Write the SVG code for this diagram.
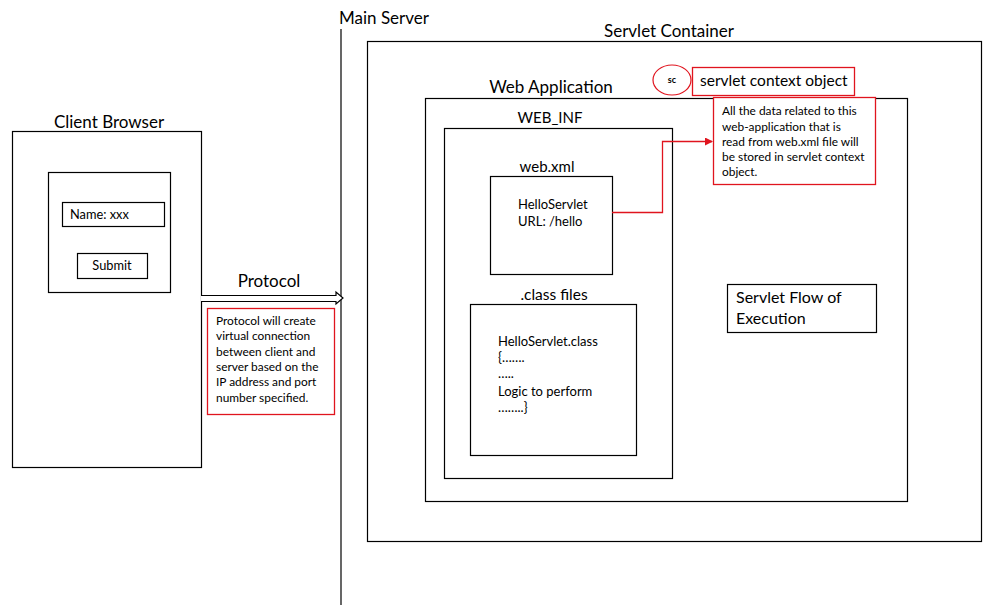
<svg xmlns="http://www.w3.org/2000/svg" width="1002" height="605" viewBox="0 0 1002 605">
<style>
.box{fill:#fff;stroke:#000;stroke-width:1.2}
.rbox{fill:#fff;stroke:#e0141e;stroke-width:1.3}
.t{font-family:Lato,"Liberation Sans",sans-serif;fill:#000}
.h{font-size:17px}
.s{font-size:11.9px}
.c{text-anchor:middle}
.conn{fill:none;stroke:#e0141e;stroke-width:1.3}
</style>
<defs>
<marker id="ah" markerWidth="8" markerHeight="8" refX="7" refY="4" orient="auto" markerUnits="userSpaceOnUse">
<path d="M0,0 L8,4 L0,8 Z" fill="#e0141e"/>
</marker>
</defs>
<rect width="1002" height="605" fill="#fff"/>

<g id="main-server">
<line x1="341" y1="29" x2="341" y2="605" stroke="#000" stroke-width="1.2"/>
<text class="t h" x="339" y="24">Main Server</text>
</g>

<g id="servlet-container">
<rect class="box" x="367.5" y="41.5" width="614" height="500"/>
<text class="t h c" x="669" y="37">Servlet Container</text>
</g>

<g id="web-application">
<rect class="box" x="425.5" y="98.5" width="482" height="403"/>
<text class="t h c" x="551" y="93">Web Application</text>
</g>

<g id="sc">
<ellipse cx="672" cy="80" rx="19" ry="15" fill="#fff" stroke="#e0141e" stroke-width="1.2"/>
<text class="t c" x="672" y="83" font-size="9" font-weight="bold">sc</text>
</g>

<g id="servlet-context-object">
<rect class="rbox" x="692.5" y="67.5" width="162" height="28"/>
<text class="t" x="700" y="86" font-size="15.5">servlet context object</text>
</g>

<g id="context-note">
<rect class="rbox" x="713.5" y="97.5" width="162" height="87"/>
<text class="t s" x="722" y="115">All the data related to this</text>
<text class="t s" x="722" y="131">web-application that is</text>
<text class="t s" x="722" y="146">read from web.xml file will</text>
<text class="t s" x="722" y="161">be stored in servlet context</text>
<text class="t s" x="722" y="176">object.</text>
</g>

<g id="web-inf">
<rect class="box" x="444.5" y="128.5" width="228" height="350"/>
<text class="t c" x="550" y="123" font-size="15">WEB_INF</text>
</g>

<g id="web-xml">
<rect class="box" x="490.5" y="176.5" width="122" height="98"/>
<text class="t c" x="547" y="172" font-size="15">web.xml</text>
<text class="t" x="518" y="209" font-size="13">HelloServlet</text>
<text class="t" x="518" y="226" font-size="13">URL: /hello</text>
</g>

<g id="class-files">
<rect class="box" x="470.5" y="304.5" width="166" height="151"/>
<text class="t c" x="554" y="300" font-size="15.5">.class files</text>
<text class="t" x="498" y="346" font-size="13">HelloServlet.class</text>
<text class="t" x="498" y="362" font-size="13">{…….</text>
<text class="t" x="498" y="378" font-size="13">…..</text>
<text class="t" x="498" y="396" font-size="13">Logic to perform</text>
<text class="t" x="498" y="412" font-size="13">……..}</text>
</g>

<g id="servlet-flow">
<rect class="box" x="727.5" y="284.5" width="149" height="48"/>
<text class="t" x="736" y="303" font-size="16">Servlet Flow of</text>
<text class="t" x="736" y="324" font-size="16">Execution</text>
</g>

<g id="client-browser">
<rect class="box" x="12.5" y="131.5" width="189" height="336"/>
<text class="t h c" x="109" y="128">Client Browser</text>
<rect class="box" x="48.5" y="172.5" width="122" height="120"/>
</g>

<g id="name-field">
<rect class="box" x="62.5" y="202.5" width="102" height="24"/>
<text class="t" x="70" y="219" font-size="12.8">Name: xxx</text>
</g>

<g id="submit-button">
<rect class="box" x="77.5" y="253.5" width="70" height="25"/>
<text class="t c" x="112" y="270" font-size="12.8">Submit</text>
</g>

<g id="protocol-note">
<rect class="rbox" x="207.5" y="308.5" width="127" height="106"/>
<text class="t s" x="216" y="325">Protocol will create</text>
<text class="t s" x="216" y="340">virtual connection</text>
<text class="t s" x="216" y="356">between client and</text>
<text class="t s" x="216" y="371">server based on the</text>
<text class="t s" x="216" y="386">IP address and port</text>
<text class="t s" x="216" y="402">number specified.</text>
</g>

<g id="connectors">
<path d="M201,295.5 H336 V292 L343,298 L336,304 V301.5 H201" fill="#fff" stroke="#000" stroke-width="1.2"/>
<text class="t h c" x="269" y="287">Protocol</text>
<path class="conn" d="M612,212.5 H662.5 V141.5 H712" marker-end="url(#ah)"/>
</g>
</svg>
